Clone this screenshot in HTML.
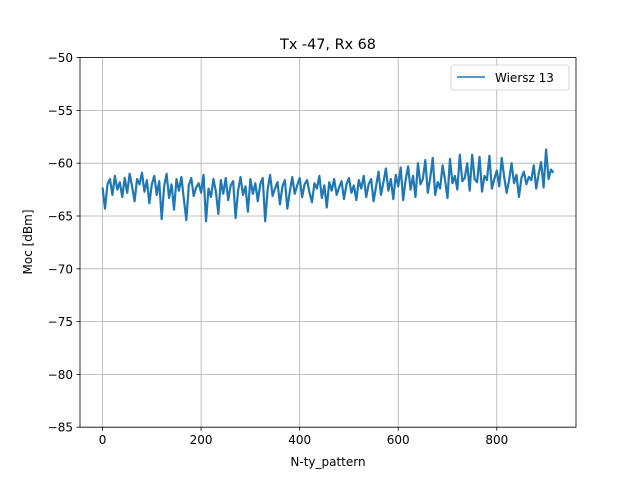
<!DOCTYPE html>
<html><head><meta charset="utf-8"><style>
body{margin:0;background:#fff;}
svg text{font-family:"DejaVu Sans","Liberation Sans",sans-serif;fill:#000;}
</style></head><body>
<svg id="chart" width="640" height="480" viewBox="0 0 640 480">
<rect width="640" height="480" fill="#fff"/>
<g id="grid"></g>
<g id="series"></g>
<rect x="80" y="57.6" width="496" height="369.6" fill="none" stroke="#000" stroke-width="0.8"/>
<g id="axes"></g>
<text x="328" y="49" font-size="14.4" text-anchor="middle">Tx -47, Rx 68</text>
<text x="328" y="466" font-size="12" text-anchor="middle">N-ty_pattern</text>
<text transform="translate(32,242) rotate(-90)" font-size="12" text-anchor="middle">Moc [dBm]</text>
<g>
<rect x="451" y="65" width="118" height="25" rx="2" fill="#fff" fill-opacity="0.8" stroke="#ccc" stroke-width="0.8"/>
<line x1="457" y1="77" x2="485" y2="77" stroke="#1f77b4" stroke-width="1.5"/>
<text x="495" y="82" font-size="12">Wiersz 13</text>
</g>
</svg>
<script>
const xTicks=[0,200,400,600,800];
const yTicks=[-50,-55,-60,-65,-70,-75,-80,-85];
const xStep=5;
const values=[-62.3,-64.3,-62,-61.5,-63,-61.2,-62.5,-61.8,-63.2,-61.4,-62.8,-61,-62.2,-63.6,-61.5,-62,-60.9,-62.7,-61.6,-63.8,
-62,-61.2,-63,-61.7,-65.3,-62.2,-61,-63.3,-62,-64.4,-61.5,-62.6,-61.3,-63.4,-65.4,-62.1,-61.4,-63.1,-62.3,-61.9,
-62.8,-61.1,-65.5,-62.4,-63.2,-61.5,-62.7,-64.8,-61.6,-62.9,-61.4,-63.5,-62.1,-61.7,-65.2,-62.6,-61.3,-63,-62.2,-64.6,
-61.5,-62.9,-61.9,-63.6,-62,-61.4,-65.5,-62.5,-61.1,-63.1,-62.4,-61.8,-63.9,-62.2,-61.6,-64.3,-62.7,-61.3,-62.9,-62.1,
-61.4,-63.2,-62,-61.6,-62.8,-63.7,-61.9,-62.4,-61.2,-63.3,-62.1,-64.2,-61.8,-62.6,-61.5,-63,-62.3,-61.7,-63.4,-62,
-61.4,-62.8,-62.1,-63.5,-61.6,-62.4,-61.2,-63.2,-62,-61.5,-63.6,-62.2,
-60.8,-63,-61.8,-60.5,-62.6,-61.5,-63.4,-61.1,-62.2,-60.4,-63.5,-61.6,-60.3,-62.5,-61.2,-63.2,-60,-62,-61.5,-59.7,
-62.8,-61.4,-59.5,-63,-61.8,-62.4,-60.2,-61.6,-63.3,-59.6,-61.9,-61.2,-62.5,-59.2,-61.7,-61.4,-60,-62.6,-59.2,-61.5,
-61.8,-59.4,-62.7,-61.2,-61.6,-59.3,-62.4,-61.5,-60.7,-62.2,-59.5,-61.3,-62.8,-61.6,-60,-61.9,-61.1,-63.2,-61.4,-60.8,
-62,-61.3,-61.6,-60.2,-62.4,-61,-59.9,-62.3,-58.7,-61.5,-60.6,-60.9];
const NS="http://www.w3.org/2000/svg";
const L=80,R=576,T=57.6,B=427.2;
const n=values.length, xmax=(n-1)*xStep, pad=xmax*0.05;
const x0=-pad,x1=xmax+pad,y0=-85,y1=-50;
const sx=v=>L+(v-x0)/(x1-x0)*(R-L);
const sy=v=>B-(v-y0)/(y1-y0)*(B-T);
function mk(tag,attrs,parent){const e=document.createElementNS(NS,tag);for(const k in attrs)e.setAttribute(k,attrs[k]);parent.appendChild(e);return e;}
const grid=document.getElementById('grid'),axes=document.getElementById('axes'),ser=document.getElementById('series');
xTicks.forEach(t=>{const x=sx(t);
 const g=mk('line',{x1:x,x2:x,y1:T,y2:B,stroke:'#b0b0b0','stroke-width':0.8},grid);
 
 
 mk('line',{x1:x,x2:x,y1:B,y2:B+3.5,stroke:'#000','stroke-width':0.8},axes);
 const tx=mk('text',{x:x,y:B+17,'font-size':12,'text-anchor':'middle'},axes);tx.textContent=t;
 
 
});
yTicks.forEach(t=>{const y=sy(t);
 const g=mk('line',{x1:L,x2:R,y1:y,y2:y,stroke:'#b0b0b0','stroke-width':0.8},grid);
 
 
 mk('line',{x1:L-3.5,x2:L,y1:y,y2:y,stroke:'#000','stroke-width':0.8},axes);
 const tx=mk('text',{x:L-7,y:y+4.5,'font-size':12,'text-anchor':'end'},axes);tx.textContent='\u2212'+Math.abs(t);
 
 
});
const pts=values.map((v,i)=>sx(i*xStep).toFixed(2)+','+sy(v).toFixed(2)).join(' ');
const pl=mk('polyline',{points:pts,fill:'none',stroke:'#1f77b4','stroke-width':2.2,'stroke-linejoin':'round'},ser);


</script>
</body></html>
